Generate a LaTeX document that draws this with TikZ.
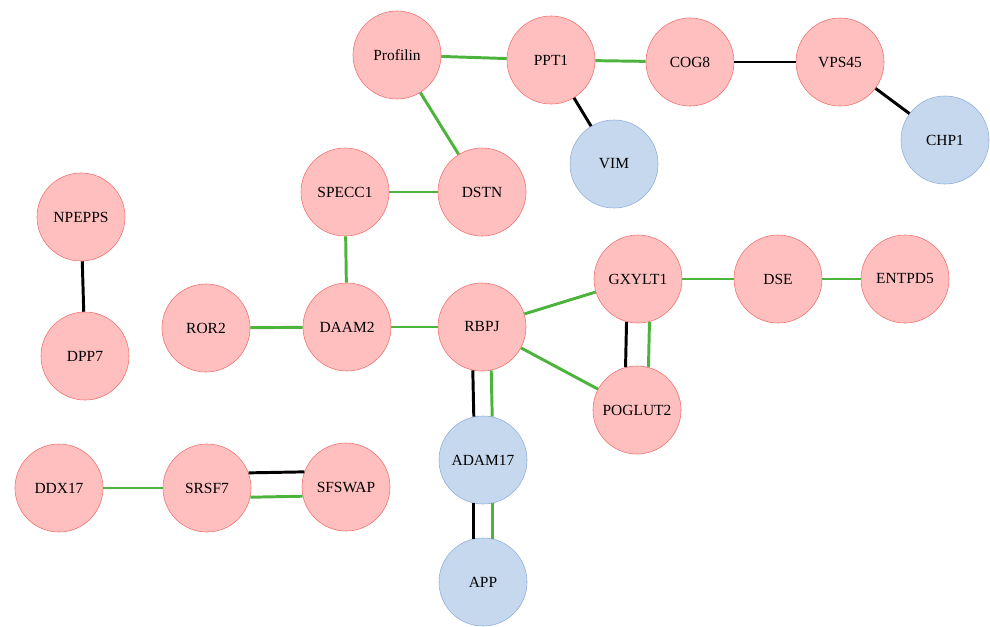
\documentclass[tikz,border=0pt]{standalone}
\usepackage{fontspec}
\setmainfont{Liberation Serif}
\usepackage{xcolor}
\usepackage{tikz}
\usetikzlibrary{positioning, calc}

\definecolor{pinkfill}{HTML}{FFBFBF}
\definecolor{pinkline}{HTML}{F07070}
\definecolor{bluefill}{HTML}{C5D8EE}
\definecolor{blueline}{HTML}{8FAEDA}
\definecolor{edgegreen}{HTML}{4CB43C}

\begin{document}
\begin{tikzpicture}[x=0.025cm, y=-0.025cm,
        gene/.style={circle, minimum size=2.2cm, inner sep=0pt, font=\fontsize{11}{13}\selectfont},
        pinkgene/.style={gene, fill=pinkfill, draw=pinkline, thin},
        bluegene/.style={gene, fill=bluefill, draw=blueline, thin},
        greenedge/.style={edgegreen, line width=2.1pt},
        blackedge/.style={black, line width=2.1pt}]
        \useasboundingbox (0,0) rectangle (990,626);

        % Nodes
        \node[pinkgene] (profilin) at (397,55) {Profilin};
        \node[pinkgene] (ppt1) at (551,60) {PPT1};
        \node[pinkgene] (cog8) at (690,62) {COG8};
        \node[pinkgene] (vps45) at (840,62) {VPS45};
        \node[bluegene] (vim) at (614,164) {VIM};
        \node[bluegene] (chp1) at (945,140) {CHP1};
        \node[pinkgene] (specc1) at (345,192) {SPECC1};
        \node[pinkgene] (dstn) at (482,192) {DSTN};
        \node[pinkgene] (npepps) at (81,217) {NPEPPS};
        \node[pinkgene] (dpp7) at (85,356) {DPP7};
        \node[pinkgene] (ror2) at (206,328) {ROR2};
        \node[pinkgene] (daam2) at (347,327) {DAAM2};
        \node[pinkgene] (rbpj) at (482,327) {RBPJ};
        \node[pinkgene] (gxylt1) at (638,279) {GXYLT1};
        \node[pinkgene] (dse) at (778,279) {DSE};
        \node[pinkgene] (entpd5) at (905,279) {ENTPD5};
        \node[pinkgene] (poglut2) at (637,410) {POGLUT2};
        \node[bluegene] (adam17) at (483,460) {ADAM17};
        \node[bluegene] (app) at (483,582) {APP};
        \node[pinkgene] (ddx17) at (59,488) {DDX17};
        \node[pinkgene] (srsf7) at (207,488) {SRSF7};
        \node[pinkgene] (sfswap) at (346,487) {SFSWAP};

        % Green links
        \draw[greenedge] (profilin) -- (ppt1);
        \draw[greenedge] (ppt1) -- (cog8);
        \draw[greenedge] (profilin) -- (dstn);
        \draw[greenedge] (specc1) -- (dstn);
        \draw[greenedge] (specc1) -- (daam2);
        \draw[greenedge] (ror2) -- (daam2);
        \draw[greenedge] (daam2) -- (rbpj);
        \draw[greenedge] (rbpj) -- (gxylt1);
        \draw[greenedge] (rbpj) -- (poglut2);
        \draw[greenedge] (gxylt1) -- (dse);
        \draw[greenedge] (dse) -- (entpd5);
        \draw[greenedge] (ddx17) -- (srsf7);

        % Black links
        \draw[blackedge] (cog8) -- (vps45);
        \draw[blackedge] (vps45) -- (chp1);
        \draw[blackedge] (ppt1) -- (vim);
        \draw[blackedge] (npepps) -- (dpp7);

        % Double links
        \draw[blackedge] (rbpj.-102) -- (adam17.102);
        \draw[greenedge] (rbpj.-78) -- (adam17.78);
        \draw[blackedge] (adam17.-102) -- (app.102);
        \draw[greenedge] (adam17.-78) -- (app.78);
        \draw[blackedge] (gxylt1.-105) -- (poglut2.105);
        \draw[greenedge] (gxylt1.-75) -- (poglut2.75);
        \draw[blackedge] (srsf7.20) -- (sfswap.160);
        \draw[greenedge] (srsf7.-12) -- (sfswap.-168);

    \end{tikzpicture}
\end{document}
